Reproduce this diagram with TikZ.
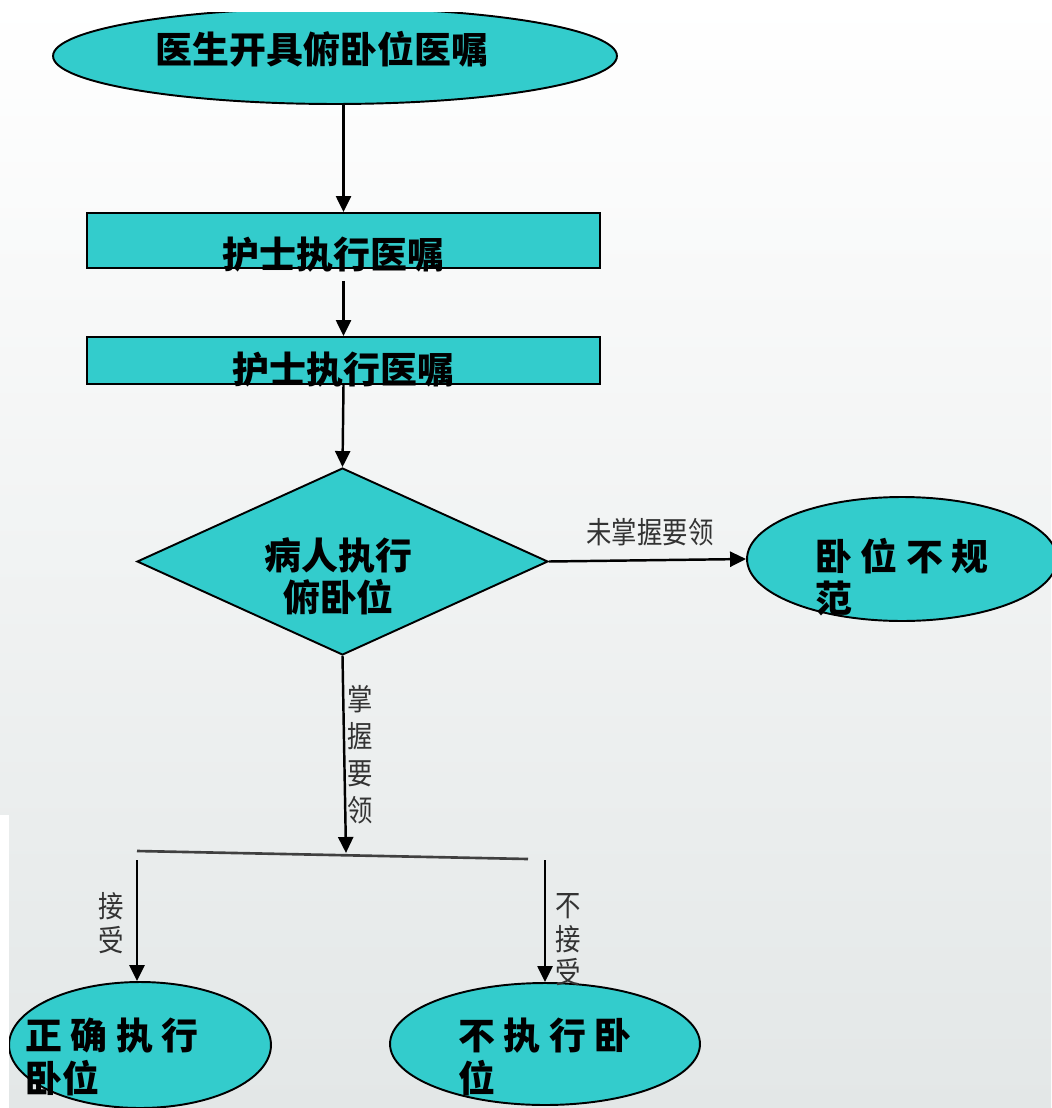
\documentclass[tikz,border=0pt]{standalone}
\usepackage{fontspec}
\newfontfamily\cjk{Noto Sans CJK SC}
\newfontfamily\cjknarrow[FakeStretch=0.85]{Noto Sans CJK SC}
\usetikzlibrary{shapes.geometric,arrows.meta}
\definecolor{boxcyan}{RGB}{51,204,204}
\definecolor{bggray}{RGB}{227,231,231}
\tikzset{
  box/.style={draw=black,line width=1.1pt,fill=boxcyan,rectangle,inner sep=0pt},
  oval/.style={draw=black,line width=1.1pt,fill=boxcyan,ellipse,inner sep=0pt},
  choice/.style={draw=black,line width=1.1pt,fill=boxcyan,diamond,inner sep=0pt},
  bigtext/.style={font=\cjk\bfseries\fontsize{21}{24}\selectfont,align=left,inner sep=0pt},
  edgetext/.style={font=\cjknarrow\fontsize{17}{21}\selectfont,text=black!80,align=center,inner sep=0pt}
}

\begin{document}
\begin{tikzpicture}[x=0.02cm,y=-0.02cm,>={Triangle[width=0.3cm,length=0.32cm]},line width=1.4pt]
                        \useasboundingbox (0,0) rectangle (1051,1108);
                        \shade[top color=white,bottom color=bggray] (0,0) rectangle (1051,1108);

                        % shapes
                        \begin{scope}
                          \clip (0,13) rectangle (1051,1108);
                          \node[oval,minimum width=11.28cm,minimum height=1.92cm,
                            label={[bigtext,xshift=-0.26cm,yshift=0.14cm]center:医生开具俯卧位医嘱}] (order) at (335,56) {};
                        \end{scope}
                        \node[box,minimum width=10.26cm,minimum height=1.1cm,
                          label={[bigtext,xshift=-0.2cm,yshift=-0.29cm]center:护士执行医嘱}] (nurseA) at (343.5,240.5) {};
                        \node[box,minimum width=10.26cm,minimum height=0.94cm,
                          label={[bigtext,yshift=-0.19cm]center:护士执行医嘱}] (nurseB) at (343.5,360.5) {};
                        \node[choice,minimum width=8.22cm,minimum height=3.74cm,
                          label={[bigtext,align=center,xshift=-0.08cm,yshift=-0.3cm]center:{病人执行\\俯卧位}}] (patient) at (342.5,561.5) {};
                        \node[oval,minimum width=6.2cm,minimum height=2.48cm,
                          label={[bigtext,yshift=-0.36cm]center:{卧\ 位\ 不\ 规\\范}}] (wrong) at (902,559) {};
                        \node[oval,minimum width=5.24cm,minimum height=2.52cm,
                          label={[bigtext,xshift=-0.56cm,yshift=-0.24cm]center:{正\ 确\ 执\ 行\\卧位}}] (correct) at (140,1045) {};
                        \node[oval,minimum width=6.2cm,minimum height=2.44cm,
                          label={[bigtext,yshift=-0.26cm]center:{不\ 执\ 行\ 卧\\位}}] (refuse) at (545,1044) {};
                        \fill[white] (0,815) rectangle (9,1108);

                        % branch bar
                        \coordinate (barL) at (137,851);
                        \coordinate (barR) at (528,859);
                        \coordinate (split) at (346,853);
                        \coordinate (accL) at (137,860);
                        \coordinate (rejR) at (545,860);
                        \draw[line width=1.5pt,black!75] (barL)--(barR);

                        % arrows
                        \draw[->] (order.south -| nurseA.north)--(nurseA.north);
                        \draw[->,shorten <=0.24cm] (nurseA.south)--(nurseB.north);
                        \draw[->] (nurseB.south)--(patient.north);
                        \draw[->] (patient.east)--(wrong.west);
                        \draw[->] (patient.south)--(split);
                        \draw[->] (accL)--(accL |- correct.north);
                        \draw[->] (rejR)--(refuse.north);

                        % labels
                        \node[edgetext] (lblmiss) at (650,532) {未掌握要领};
                        \node[edgetext] (lblgrasp) at (360,755) {掌\\握\\要\\领};
                        \node[edgetext,font=\cjknarrow\fontsize{17}{19}\selectfont] (lblaccept) at (111,923) {接\\受};
                        \node[edgetext,font=\cjknarrow\fontsize{17}{19}\selectfont] (lblrefuse) at (568,940) {不\\接\\受};
                    \end{tikzpicture}
\end{document}
